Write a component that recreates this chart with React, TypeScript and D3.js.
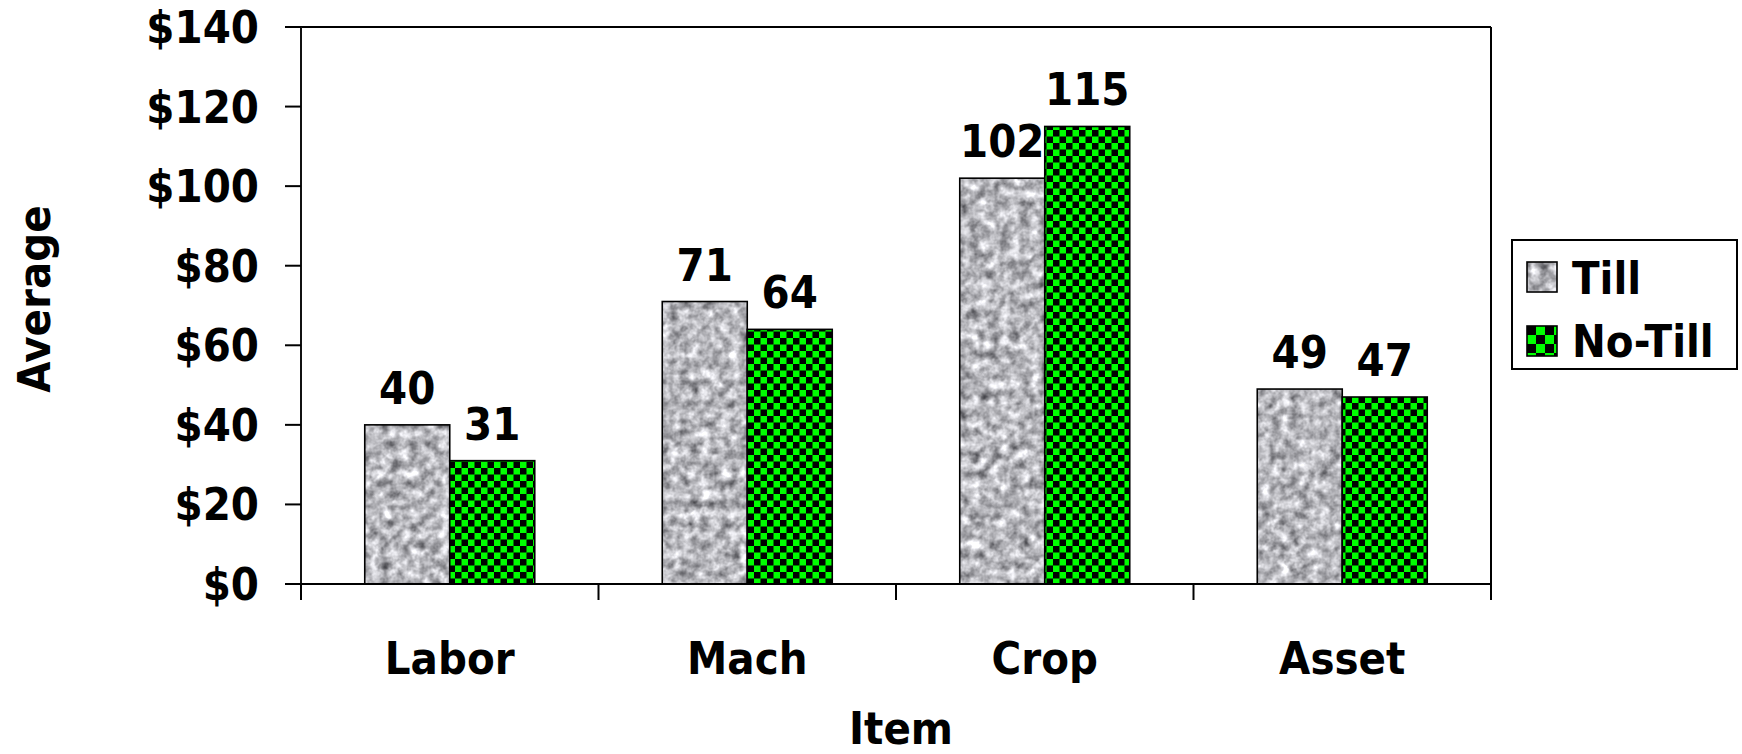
import React from "react";
import * as d3 from "d3";

const categories = ["Labor", "Mach", "Crop", "Asset"];
const seriesNames = ["Till", "No-Till"];
const tillValues = [40, 71, 102, 49];
const noTillValues = [31, 64, 115, 47];
const yTicks = [0, 20, 40, 60, 80, 100, 120, 140];
const yTitle = "Average";
const xTitle = "Item";

const W = 1742;
const H = 754;
const L = 301, R = 1491, T = 27, B = 584;
const FONT = "'DejaVu Sans', Verdana, sans-serif";
const FS = 44;
const SX = 0.92;

function Txt(props: { x: number; y: number; anchor?: string; rotate?: number; children: React.ReactNode; size?: number }) {
  const { x, y, anchor = "middle", rotate = 0, children, size = FS } = props;
  return (
    <text
      transform={`translate(${x},${y}) rotate(${rotate}) scale(${SX},1)`}
      textAnchor={anchor}
      fontFamily={FONT}
      fontWeight="bold"
      fontSize={size}
      fill="#000"
    >
      {children}
    </text>
  );
}

export default function App() {
  const x0 = d3.scaleBand<string>().domain(categories).range([L, R]).paddingInner(0).paddingOuter(0);
  const x1 = d3.scaleBand<string>().domain(seriesNames).range([0, x0.bandwidth()]).paddingInner(0).paddingOuter(0.75);
  const y = d3.scaleLinear().domain([0, 140]).range([B, T]);
  const fmt = (v: number) => "$" + d3.format("d")(v);
  const seriesVals = [tillValues, noTillValues];

  const boundaries = [...categories.map((c) => x0(c) as number), R];

  return (
    <svg width={W} height={H} viewBox={`0 0 ${W} ${H}`} style={{ position: "absolute", left: 0, top: 0, background: "#fff" }}>
      <defs>
        <filter id="granite" x="0" y="0" width="100%" height="100%" colorInterpolationFilters="sRGB">
          <feTurbulence type="fractalNoise" baseFrequency="0.1" numOctaves="3" seed="11" result="noise" />
          <feColorMatrix
            in="noise"
            type="matrix"
            values="0.65 0.65 0 0 0.07  0.65 0.65 0 0 0.07  0.65 0.65 0 0 0.09  0 0 0 0 1"
            result="gray"
          />
          <feComposite in="gray" in2="SourceGraphic" operator="in" />
        </filter>
        <pattern id="checker" patternUnits="userSpaceOnUse" width={13} height={13}>
          <rect width={13} height={13} fill="#00ff00" />
          <rect width={6.5} height={6.5} fill="#000" />
          <rect x={6.5} y={6.5} width={6.5} height={6.5} fill="#000" />
        </pattern>
        <pattern id="checkerBig" patternUnits="userSpaceOnUse" width={18} height={18} x={1527} y={326}>
          <rect width={18} height={18} fill="#00ff00" />
          <rect width={9} height={9} fill="#000" />
          <rect x={9} y={9} width={9} height={9} fill="#000" />
        </pattern>
      </defs>

      {/* plot border */}
      <line x1={L} x2={R} y1={T} y2={T} stroke="#000" strokeWidth={2} />
      <line x1={R} x2={R} y1={T} y2={B + 16} stroke="#000" strokeWidth={2} />

      {/* bars */}
      {categories.map((c, i) =>
        seriesNames.map((s, j) => {
          const bx = (x0(c) as number) + (x1(s) as number);
          const bw = x1.bandwidth();
          const v = seriesVals[j][i];
          const by = y(v);
          const bh = B - by;
          return (
            <g key={c + s}>
              {j === 0 ? (
                <rect x={bx} y={by} width={bw} height={bh} fill="#bbb" filter="url(#granite)" />
              ) : (
                <rect x={bx} y={by} width={bw} height={bh} fill="url(#checker)" />
              )}
              <rect x={bx} y={by} width={bw} height={bh} fill="none" stroke="#000" strokeWidth={1.6} />
              <Txt x={bx + bw / 2} y={by - 21}>{String(v)}</Txt>
            </g>
          );
        })
      )}

      {/* y axis */}
      <line x1={L} x2={L} y1={T} y2={B} stroke="#111" strokeWidth={2} />
      {yTicks.map((t) => (
        <g key={t}>
          <line x1={L - 16} x2={L} y1={y(t)} y2={y(t)} stroke="#000" strokeWidth={2} />
          <Txt x={259} y={y(t) + 16} anchor="end">{fmt(t)}</Txt>
        </g>
      ))}

      {/* x axis */}
      <line x1={L - 16} x2={R} y1={B} y2={B} stroke="#000" strokeWidth={2} />
      {boundaries.map((bx, i) => (
        <line key={i} x1={bx} x2={bx} y1={B} y2={B + 16} stroke="#000" strokeWidth={2} />
      ))}
      {categories.map((c) => (
        <Txt key={c} x={(x0(c) as number) + x0.bandwidth() / 2} y={674}>{c}</Txt>
      ))}

      {/* axis titles */}
      <Txt x={(L + R) / 2 + 5} y={744}>{xTitle}</Txt>
      <Txt x={50} y={299} rotate={-90}>{yTitle}</Txt>

      {/* legend */}
      <rect x={1512} y={240} width={225} height={129} fill="#fff" stroke="#000" strokeWidth={2} />
      <rect x={1527} y={262} width={30} height={30} fill="#bbb" filter="url(#granite)" />
      <rect x={1527} y={262} width={30} height={30} fill="none" stroke="#000" strokeWidth={1.6} />
      <Txt x={1572} y={294} anchor="start">{seriesNames[0]}</Txt>
      <rect x={1527} y={326} width={30} height={30} fill="url(#checkerBig)" stroke="#000" strokeWidth={1.6} />
      <Txt x={1572} y={357} anchor="start">{seriesNames[1]}</Txt>
    </svg>
  );
}
